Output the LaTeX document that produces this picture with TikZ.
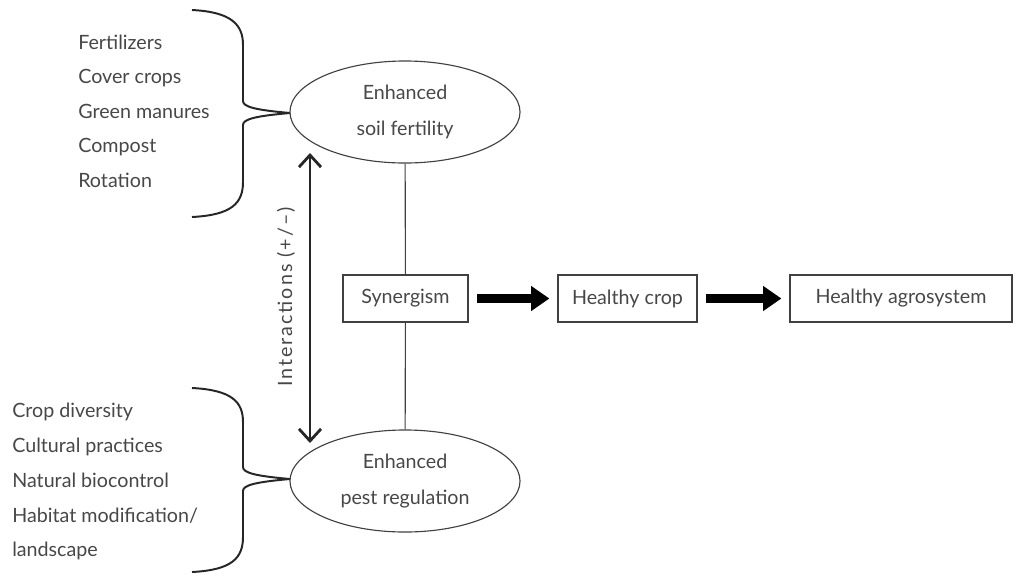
\documentclass[tikz,border=0pt]{standalone}
\usepackage{fontspec}
\setmainfont{Lato}
\usepackage{tikz}
\usetikzlibrary{arrows.meta,shapes.geometric}

\begin{document}
\begin{tikzpicture}[x=0.025cm,y=-0.025cm,
    txt/.style={text=black!72,font=\fontsize{14}{16}\selectfont},
    item/.style={txt,anchor=west,inner sep=0pt,text height=10pt,text depth=3pt},
    oval/.style={txt,draw=black!75,line width=0.8pt,ellipse,minimum width=5.75cm,minimum height=2.55cm,align=center},
    box/.style={txt,draw=black!75,line width=0.8pt,minimum height=1.175cm},
    brace/.style={draw=black!85,line width=1.4pt},
    fat/.style={line width=7pt,-{Triangle[length=13pt,width=17pt]},shorten <=2.2mm,shorten >=2mm}]
  \useasboundingbox (0,0) rectangle (1021,575);
  % left lists
  \node[item] (fert) at (78,45) {Fertilizers};
  \node[item] (cover) at (78,79) {Cover crops};
  \node[item] (green) at (78,114) {Green manures};
  \node[item] (comp) at (78,148) {Compost};
  \node[item] (rot) at (78,183) {Rotation};
  \node[item] (div) at (12,413) {Crop diversity};
  \node[item] (cult) at (12,448) {Cultural practices};
  \node[item] (bio) at (12,483) {Natural biocontrol};
  \node[item] (hab) at (12,518) {Habitat modification/};
  \node[item] (land) at (12,552) {landscape};
  % braces
  \draw[brace] (192,10) .. controls (232,12) and (243,25) .. (243,45) -- (243,101)
    .. controls (243,107) and (256,110) .. (290,113)
    .. controls (256,116) and (243,119) .. (243,125) -- (243,182)
    .. controls (243,203) and (232,215) .. (192,217);
  \draw[brace] (192,388) .. controls (232,390) and (243,402) .. (243,422) -- (243,467)
    .. controls (243,473) and (256,476) .. (290,479)
    .. controls (256,482) and (243,485) .. (243,491) -- (243,537)
    .. controls (243,558) and (232,570) .. (192,572);
  % ellipses
  \node[oval] (soil) at (405,112) {Enhanced\\[9pt]soil fertility};
  \node[oval] (pest) at (405,481) {Enhanced\\[9pt]pest regulation};
  % boxes
  \node[box,minimum width=3.125cm] (syn) at (405.5,298.5) {Synergism};
  \node[box,minimum width=3.475cm] (crop) at (627.5,298.5) {Healthy crop};
  \node[box,minimum width=5.55cm] (agro) at (901,298.5) {Healthy agrosystem};
  \draw[black!75,line width=0.8pt] (soil) -- (syn);
  \draw[black!75,line width=0.8pt] (syn) -- (pest);
  \draw[fat] (syn) -- (crop);
  \draw[fat] (crop) -- (agro);
  % interactions
  \coordinate (itop) at (310,153);
  \coordinate (ibot) at (310,443);
  \draw[black!85,line width=1.2pt,{Straight Barb[length=3mm,width=5.5mm,line width=2pt]}-{Straight Barb[length=3mm,width=5.5mm,line width=2pt]}] (itop) -- (ibot);
  \node[txt,rotate=90] (inter) at (286,297) {\addfontfeature{LetterSpace=10}Interactions (+/–)};
\end{tikzpicture}
\end{document}
